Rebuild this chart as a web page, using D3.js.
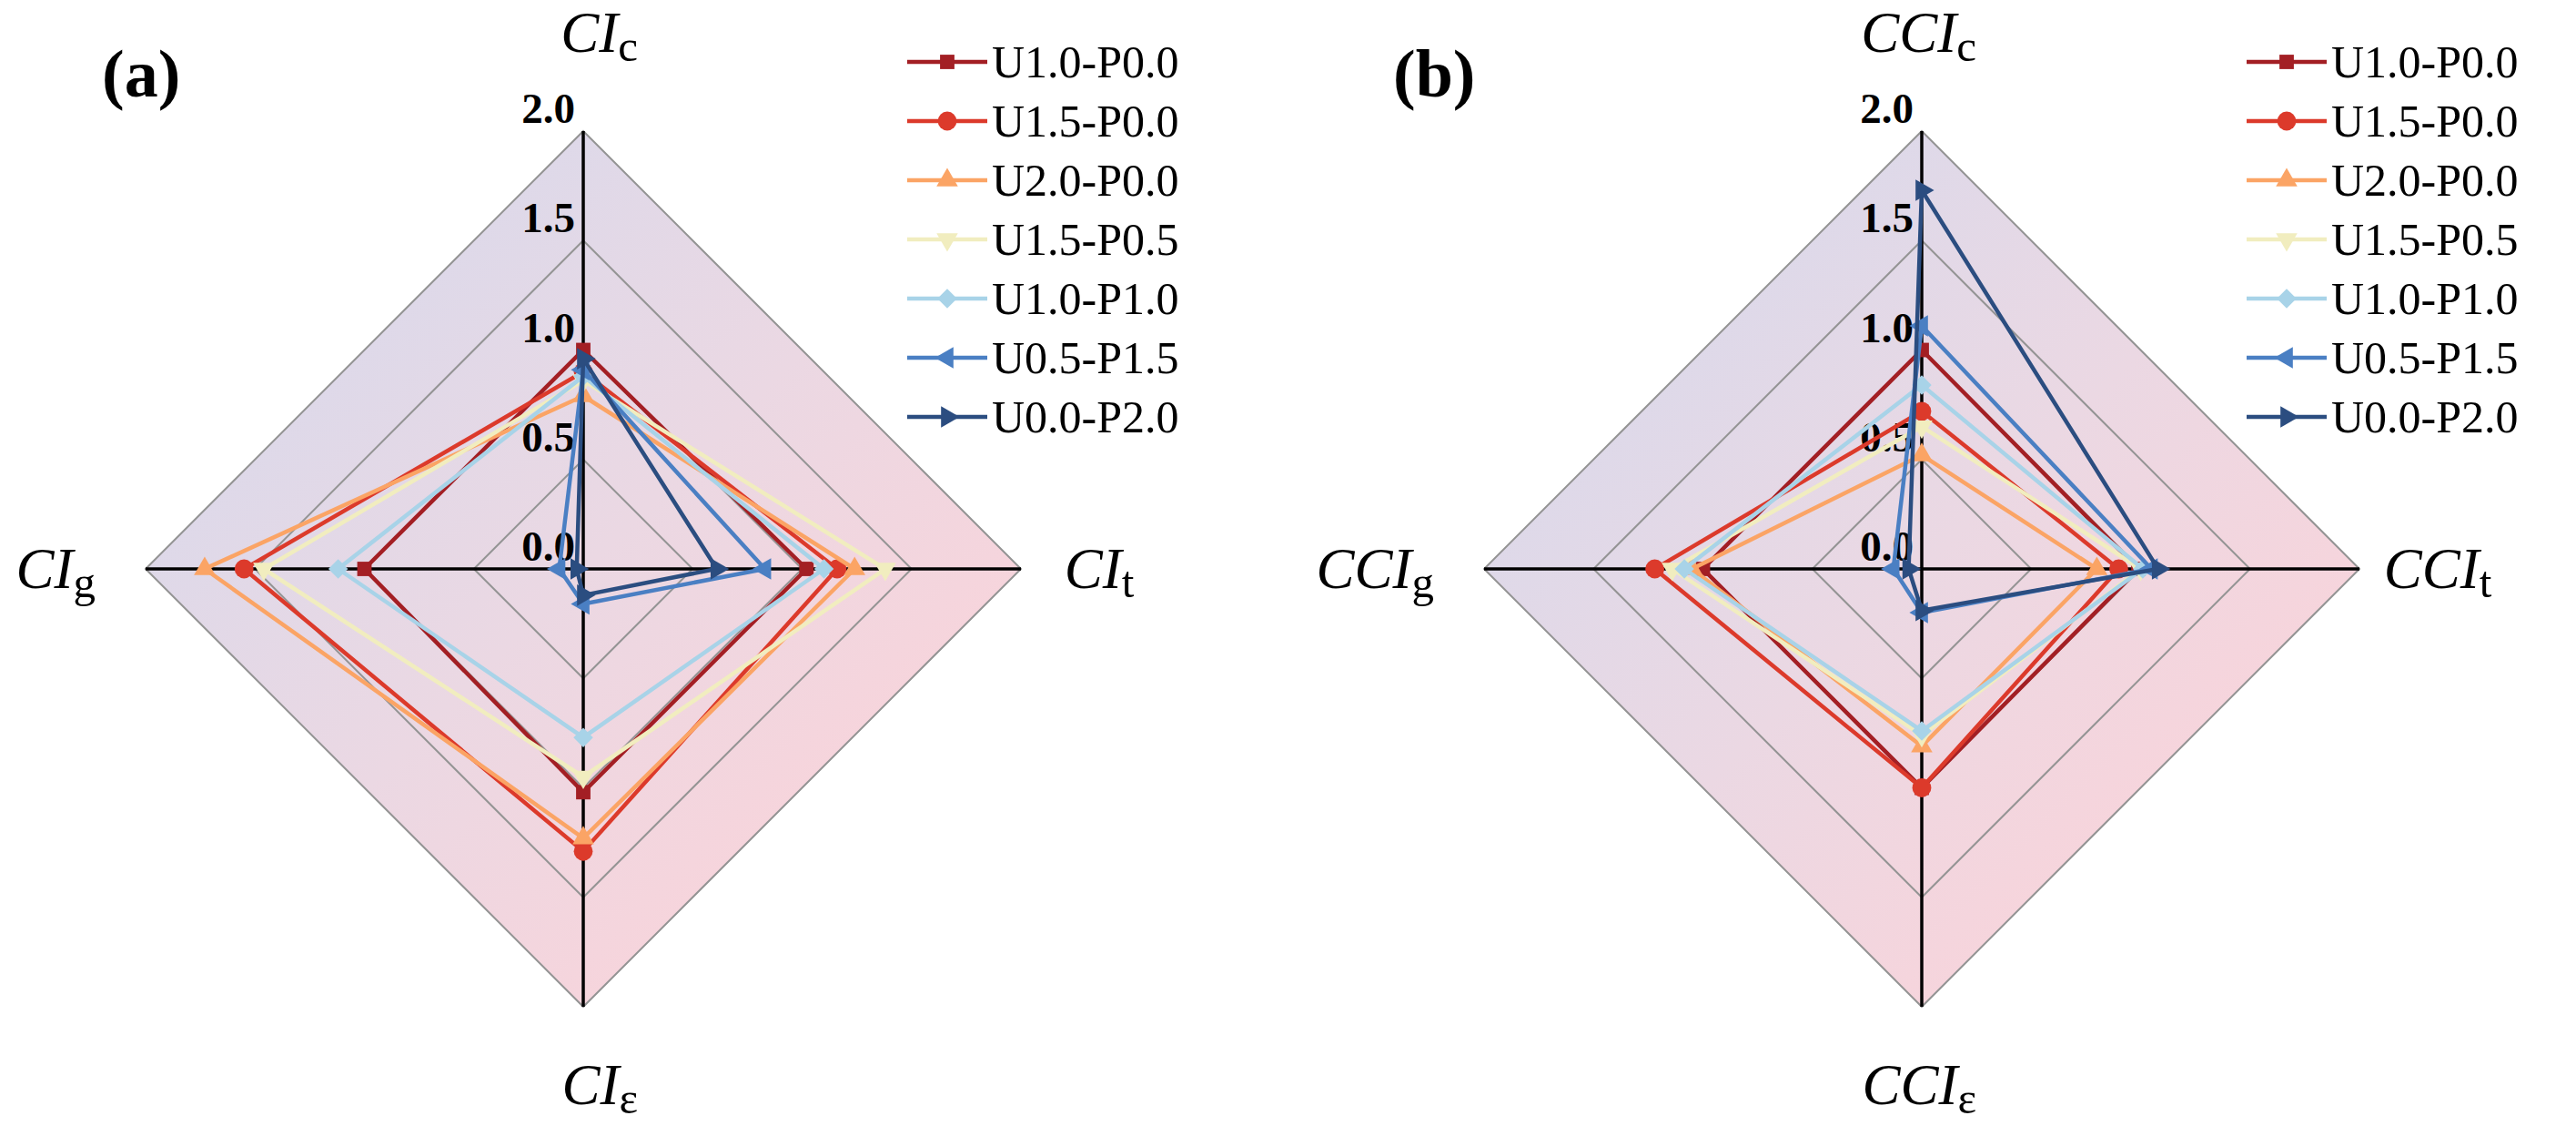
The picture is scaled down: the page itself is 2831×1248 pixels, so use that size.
<!DOCTYPE html>
<html>
<head>
<meta charset="utf-8">
<script src="https://cdn.jsdelivr.net/npm/d3@7/dist/d3.min.js"></script>
<style>
  html, body { margin: 0; padding: 0; background: #ffffff; }
  svg { display: block; }
  text { font-family: "Liberation Serif", "Times New Roman", serif; fill: #000; }
</style>
</head>
<body>
<svg id="chart" width="2831" height="1248"></svg>
<script>
// ---------------- data ----------------
const seriesNames = ["U1.0-P0.0", "U1.5-P0.0", "U2.0-P0.0", "U1.5-P0.5", "U1.0-P1.0", "U0.5-P1.5", "U0.0-P2.0"];
const seriesColors = ["#a31f24", "#dc3a2b", "#fba465", "#f1edbf", "#a8d3e8", "#4a7fc3", "#2b4d80"];
const seriesMarkers = ["square", "circle", "triangleUp", "triangleDown", "diamond", "triangleLeft", "triangleRight"];

const axesA = [{base: "CI", sub: "c"}, {base: "CI", sub: "t"}, {base: "CI", sub: "ε"}, {base: "CI", sub: "g"}];
const axesB = [{base: "CCI", sub: "c"}, {base: "CCI", sub: "t"}, {base: "CCI", sub: "ε"}, {base: "CCI", sub: "g"}];

// values in axis order: c (top), t (right), ε (bottom), g (left)
const valuesA = [
  [1.00, 1.02, 1.02, 1.00],
  [0.90, 1.16, 1.29, 1.55],
  [0.79, 1.24, 1.23, 1.73],
  [0.86, 1.38, 0.95, 1.46],
  [0.88, 1.10, 0.77, 1.12],
  [0.91, 0.83, 0.16, 0.11],
  [0.96, 0.61, 0.12, 0.03]
];
const valuesB = [
  [1.00, 0.99, 1.00, 1.00],
  [0.72, 0.90, 1.00, 1.22],
  [0.52, 0.80, 0.81, 1.05],
  [0.65, 1.00, 0.76, 1.14],
  [0.84, 1.01, 0.74, 1.085],
  [1.11, 1.05, 0.20, 0.13],
  [1.73, 1.08, 0.19, 0.06]
];

const tickValues = [0.0, 0.5, 1.0, 1.5, 2.0];
const tickLabels = ["0.0", "0.5", "1.0", "1.5", "2.0"];
const panelLabels = ["(a)", "(b)"];

// ---------------- drawing ----------------
const svg = d3.select("#chart");
const defs = svg.append("defs");
const grad = defs.append("linearGradient").attr("id", "bgGrad")
  .attr("x1", "0").attr("y1", "0").attr("x2", "1").attr("y2", "1");
grad.append("stop").attr("offset", "0.2").attr("stop-color", "#dcd9ea");
grad.append("stop").attr("offset", "0.5").attr("stop-color", "#ebd8e3");
grad.append("stop").attr("offset", "0.8").attr("stop-color", "#f8d4db");

const R = 481;
const rScale = d3.scaleLinear().domain([0, 2]).range([0, R]);
const angles = [0, Math.PI / 2, Math.PI, 3 * Math.PI / 2];

function pt(cx, cy, a, v) {
  const r = rScale(v);
  return [cx + r * Math.sin(a), cy - r * Math.cos(a)];
}

function markerPath(type) {
  const sym = d3.symbol();
  switch (type) {
    case "square": return {d: sym.type(d3.symbolSquare).size(250)(), rot: 0};
    case "circle": return {d: sym.type(d3.symbolCircle).size(340)(), rot: 0};
    case "triangleUp": return {d: sym.type(d3.symbolTriangle).size(240)(), rot: 0};
    case "triangleDown": return {d: sym.type(d3.symbolTriangle).size(240)(), rot: 180};
    case "diamond": return {d: sym.type(d3.symbolSquare).size(230)(), rot: 45};
    case "triangleLeft": return {d: sym.type(d3.symbolTriangle).size(240)(), rot: -90};
    case "triangleRight": return {d: sym.type(d3.symbolTriangle).size(240)(), rot: 90};
  }
}

function drawPanel(cx, cy, axes, values, panelLabel, panelLabelX, legendX) {
  const g = svg.append("g");

  // background diamond
  const outer = angles.map(a => pt(cx, cy, a, 2));
  g.append("polygon")
    .attr("points", outer.map(p => p.join(",")).join(" "))
    .attr("fill", "url(#bgGrad)");

  // grid rings
  [0.5, 1.0, 1.5, 2.0].forEach(v => {
    const ring = angles.map(a => pt(cx, cy, a, v));
    g.append("polygon")
      .attr("points", ring.map(p => p.join(",")).join(" "))
      .attr("fill", "none")
      .attr("stroke", "#949494")
      .attr("stroke-width", 2);
  });

  // axes
  angles.forEach(a => {
    const p = pt(cx, cy, a, 2);
    g.append("line")
      .attr("x1", cx).attr("y1", cy).attr("x2", p[0]).attr("y2", p[1])
      .attr("stroke", "#000").attr("stroke-width", 3.5);
  });

  // tick labels along top axis
  tickValues.forEach((v, i) => {
    g.append("text")
      .attr("x", cx - 9)
      .attr("y", cy - rScale(v) - 9)
      .attr("text-anchor", "end")
      .attr("font-size", 47)
      .attr("font-weight", "bold")
      .text(tickLabels[i]);
  });

  // series
  const line = d3.line().curve(d3.curveLinearClosed);
  values.forEach((vals, si) => {
    const pts = vals.map((v, k) => pt(cx, cy, angles[k], v));
    g.append("path")
      .attr("d", line(pts))
      .attr("fill", "none")
      .attr("stroke", seriesColors[si])
      .attr("stroke-width", 4.5)
      .attr("stroke-linejoin", "miter");
    const m = markerPath(seriesMarkers[si]);
    pts.forEach(p => {
      g.append("path")
        .attr("d", m.d)
        .attr("transform", `translate(${p[0]},${p[1]}) rotate(${m.rot})`)
        .attr("fill", seriesColors[si]);
    });
  });

  // axis titles
  const titlePos = [
    {x: cx + 60, y: 57, anchor: "end"},
    {x: cx + R + 86, y: 646, anchor: "middle"},
    {x: cx + 60, y: 1213, anchor: "end"},
    {x: cx - R - 55, y: 646, anchor: "end"}
  ];
  axes.forEach((ax, k) => {
    const t = g.append("text")
      .attr("x", titlePos[k].x)
      .attr("y", titlePos[k].y)
      .attr("text-anchor", titlePos[k].anchor)
      .attr("font-size", 63);
    t.append("tspan").attr("font-style", "italic").text(ax.base);
    t.append("tspan").attr("font-size", 49).attr("dy", 10).text(ax.sub);
  });

  // panel label
  g.append("text")
    .attr("x", panelLabelX)
    .attr("y", 106)
    .attr("font-size", 74)
    .attr("font-weight", "bold")
    .text(panelLabel);

  // legend
  const lg = g.append("g");
  seriesNames.forEach((name, si) => {
    const y = 68 + si * 65;
    lg.append("line")
      .attr("x1", legendX).attr("x2", legendX + 88)
      .attr("y1", y).attr("y2", y)
      .attr("stroke", seriesColors[si]).attr("stroke-width", 4.5);
    const m = markerPath(seriesMarkers[si]);
    lg.append("path")
      .attr("d", m.d)
      .attr("transform", `translate(${legendX + 44},${y}) rotate(${m.rot})`)
      .attr("fill", seriesColors[si]);
    lg.append("text")
      .attr("x", legendX + 93)
      .attr("y", y + 17)
      .attr("font-size", 50)
      .text(name);
  });
}

drawPanel(641, 625, axesA, valuesA, panelLabels[0], 112, 997);
drawPanel(2112, 625, axesB, valuesB, panelLabels[1], 1531, 2469);
</script>
</body>
</html>
